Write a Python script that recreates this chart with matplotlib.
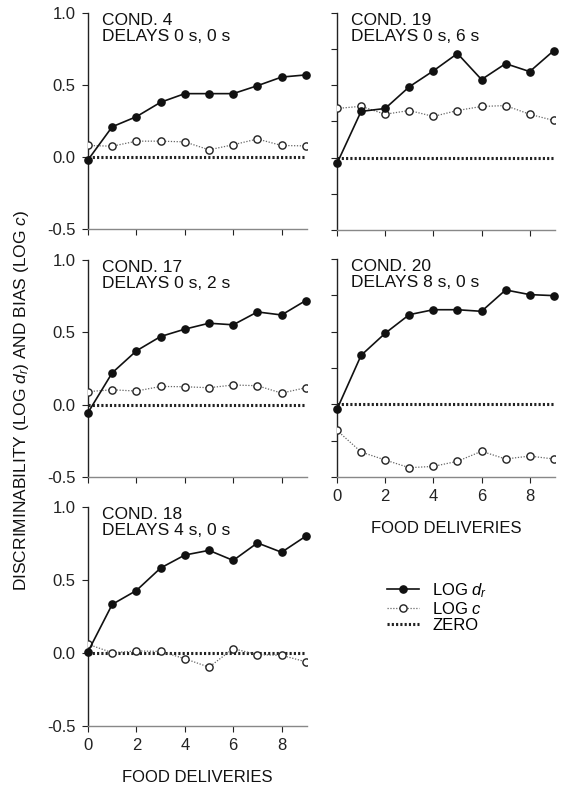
import matplotlib
matplotlib.use("Agg")
import matplotlib.pyplot as plt
from matplotlib.lines import Line2D

plt.rcParams['font.family'] = ['Liberation Sans', 'DejaVu Sans']
plt.rcParams['mathtext.fontset'] = 'custom'
plt.rcParams['mathtext.rm'] = 'Liberation Sans'
plt.rcParams['mathtext.it'] = 'Liberation Sans:italic'

deliveries = [0, 1, 2, 3, 4, 5, 6, 7, 8, 9]

cond4_logd = [-0.02, 0.21, 0.28, 0.38, 0.44, 0.44, 0.44, 0.495, 0.555, 0.57]
cond4_logc = [0.08, 0.075, 0.11, 0.11, 0.105, 0.05, 0.085, 0.125, 0.08, 0.077]

cond19_logd = [-0.04, 0.32, 0.34, 0.49, 0.60, 0.72, 0.54, 0.65, 0.595, 0.74]
cond19_logc = [0.34, 0.355, 0.30, 0.326, 0.285, 0.326, 0.354, 0.36, 0.30, 0.257]

cond17_logd = [-0.055, 0.22, 0.372, 0.471, 0.522, 0.563, 0.552, 0.641, 0.62, 0.72]
cond17_logc = [0.09, 0.103, 0.094, 0.126, 0.124, 0.117, 0.136, 0.131, 0.08, 0.117]

cond20_logd = [-0.034, 0.337, 0.489, 0.617, 0.651, 0.651, 0.64, 0.787, 0.755, 0.748]
cond20_logc = [-0.179, -0.328, -0.383, -0.436, -0.427, -0.392, -0.323, -0.376, -0.356, -0.376]

cond18_logd = [0.009, 0.333, 0.428, 0.582, 0.671, 0.703, 0.634, 0.754, 0.69, 0.80]
cond18_logc = [0.06, 0.002, 0.014, 0.011, -0.039, -0.097, 0.03, -0.011, -0.016, -0.06]

panel_titles = ["COND. 4\nDELAYS 0 s, 0 s", "COND. 19\nDELAYS 0 s, 6 s",
                "COND. 17\nDELAYS 0 s, 2 s", "COND. 20\nDELAYS 8 s, 0 s",
                "COND. 18\nDELAYS 4 s, 0 s"]
panel_logd = [cond4_logd, cond19_logd, cond17_logd, cond20_logd, cond18_logd]
panel_logc = [cond4_logc, cond19_logc, cond17_logc, cond20_logc, cond18_logc]

x_ticks = [0, 2, 4, 6, 8]
y_ticks_left = [-0.5, 0.0, 0.5, 1.0]
y_tick_labels = ["-0.5", "0.0", "0.5", "1.0"]
y_ticks_right = [-0.5, -0.25, 0.0, 0.25, 0.5, 0.75, 1.0]

W, H = 565, 789
fig = plt.figure(figsize=(W / 100, H / 100), dpi=100)


def px_axes(left, top, right, bottom):
    return fig.add_axes([left / W, 1 - bottom / H, (right - left) / W, (bottom - top) / H])


# (left, top, right, bottom) in pixels; column, and whether the x labels show
layout = [
    ((88, 13, 307, 229), 'left', False),
    ((337, 13, 555, 230), 'right', False),
    ((88, 260, 307, 477), 'left', False),
    ((337, 259, 555, 477), 'right', True),
    ((88, 507, 307, 726), 'left', True),
]

FS = 12
INK = '#111111'

for (box, col, xlab), title, logd, logc in zip(layout, panel_titles, panel_logd, panel_logc):
    ax = px_axes(*box)
    ax.set_xlim(0, 9.05)
    ax.set_ylim(-0.5, 1.0)
    for s in ('top', 'right'):
        ax.spines[s].set_visible(False)
    ax.spines['left'].set_linewidth(1.0)
    ax.spines['left'].set_color('#222222')
    ax.spines['bottom'].set_linewidth(1.0)
    ax.spines['bottom'].set_color('#888888')

    ax.plot([deliveries[0], deliveries[-1]], [0, 0], color='#222222', lw=2.2,
            linestyle=(0, (0.7, 0.7)), zorder=2)
    ax.plot(deliveries, logc, color='#666666', lw=0.9, linestyle=(0, (1, 1.3)),
            marker='o', ms=5.2, mfc='white', mec='#222222', mew=1.0, zorder=3)
    ax.plot(deliveries, logd, color=INK, lw=1.2, marker='o', ms=5.2,
            mfc=INK, mec=INK, zorder=4, clip_on=False)

    ax.set_xticks(x_ticks)
    ax.tick_params(axis='both', direction='out', length=4, width=0.8,
                   labelsize=FS, colors='#222222', pad=5)
    if xlab:
        ax.set_xlabel("FOOD DELIVERIES", fontsize=FS, labelpad=12, color=INK)
    else:
        ax.set_xticklabels([])

    if col == 'left':
        ax.set_yticks(y_ticks_left)
        ax.set_yticklabels(y_tick_labels)
    else:
        ax.set_yticks(y_ticks_right)
        ax.set_yticklabels([])

    ax.text(0.065, 1.0, title, transform=ax.transAxes, ha='left', va='top',
            fontsize=12.5, linespacing=1.12, color=INK)

fig.text(22 / W, 1 - 400 / H, "DISCRIMINABILITY (LOG $d_r$) AND BIAS (LOG $c$)",
         rotation=90, ha='center', va='center', fontsize=12.5, color=INK)

handles = [
    Line2D([], [], color=INK, lw=1.2, marker='o', ms=5.2, mfc=INK),
    Line2D([], [], color='#666666', lw=0.9, linestyle=(0, (1, 1.3)), marker='o',
           ms=5.2, mfc='white', mec='#222222'),
    Line2D([], [], color='#222222', lw=2.2, linestyle=(0, (0.7, 0.7))),
]
fig.legend(handles, ["LOG $d_r$", "LOG $c$", "ZERO"], loc='upper left',
           bbox_to_anchor=(379 / W, 1 - 573 / H), frameon=False, fontsize=FS,
           handlelength=1.9, handletextpad=0.8, labelspacing=0.05, borderpad=0)

fig.savefig("out.png", dpi=100)
